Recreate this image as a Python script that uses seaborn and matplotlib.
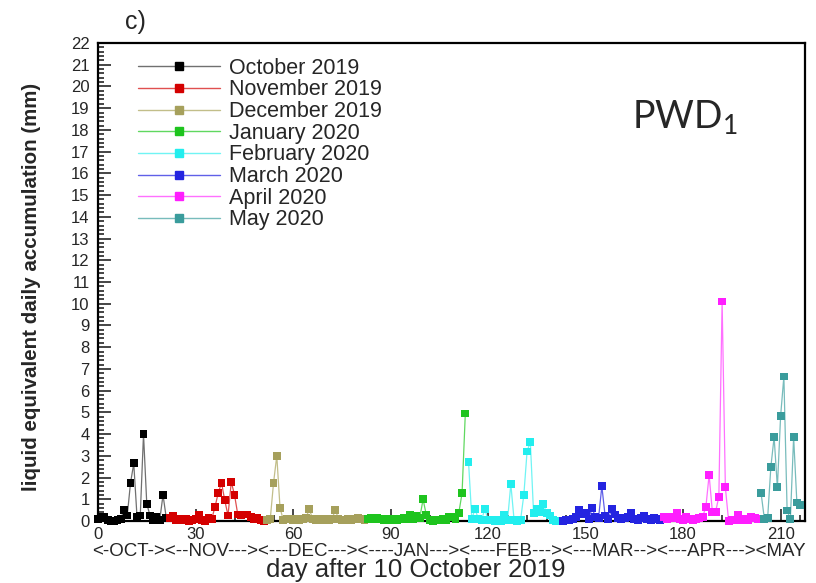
import numpy as np
import pandas as pd
import matplotlib
matplotlib.use('Agg')
import matplotlib.pyplot as plt
from matplotlib.lines import Line2D
from matplotlib.ticker import MultipleLocator
import seaborn as sns

# daily liquid-equivalent accumulation (mm), one list per month
# day 0 = 10 October 2019
oct_2019 = [0.1, 0.2, 0.2, 0.05, 0.0, 0.0, 0.05, 0.1, 0.5, 0.25, 1.75, 2.65, 0.2, 0.25,
            4.0, 0.8, 0.25, 0.05, 0.2, 0.05, 1.2, 0.15]
nov_2019 = [0.15, 0.25, 0.05, 0.1, 0.05, 0.1, 0.0, 0.05, 0.1, 0.3, 0.05, 0.0, 0.15, 0.1,
            0.65, 1.3, 1.75, 0.95, 0.25, 1.8, 1.2, 0.3, 0.25, 0.3, 0.3, 0.2, 0.1, 0.15,
            0.05, 0.0]
dec_2019 = [0.05, 0.1, 1.75, 3.0, 0.6, 0.05, 0.1, 0.1, 0.05, 0.1, 0.05, 0.1, 0.15, 0.55,
            0.1, 0.05, 0.1, 0.05, 0.1, 0.05, 0.1, 0.5, 0.1, 0.05, 0.05, 0.1, 0.05, 0.1,
            0.15, 0.1, 0.05]
jan_2020 = [0.1, 0.15, 0.1, 0.15, 0.1, 0.05, 0.1, 0.05, 0.1, 0.05, 0.1, 0.15, 0.1, 0.3,
            0.1, 0.25, 0.15, 1.0, 0.28, 0.05, 0.0, 0.05, 0.05, 0.1, 0.05, 0.2, 0.17, 0.1,
            0.38, 1.28, 4.95]
feb_2020 = [2.7, 0.1, 0.55, 0.1, 0.05, 0.55, 0.05, 0.05, 0.0, 0.05, 0.0, 0.3, 0.05, 1.7,
            0.05, 0.0, 0.05, 1.2, 3.2, 3.65, 0.35, 0.55, 0.4, 0.8, 0.35, 0.25, 0.05, 0.0,
            0.0]
mar_2020 = [0.0, 0.05, 0.05, 0.1, 0.2, 0.5, 0.3, 0.35, 0.1, 0.6, 0.2, 0.15, 1.6, 0.25,
            0.1, 0.55, 0.3, 0.15, 0.1, 0.15, 0.2, 0.35, 0.1, 0.05, 0.15, 0.25, 0.1, 0.05,
            0.15, 0.1, 0.05]
apr_2020 = [0.2, 0.1, 0.2, 0.15, 0.35, 0.1, 0.05, 0.17, 0.1, 0.05, 0.1, 0.15, 0.2, 0.63,
            2.12, 0.43, 0.43, 1.12, 10.1, 1.55, 0.0, 0.05, 0.05, 0.28, 0.05, 0.1, 0.05,
            0.2, 0.15, 0.1]
may_2020 = [1.27, 0.1, 0.12, 2.5, 3.86, 1.55, 4.84, 6.65, 0.48, 0.08, 3.86, 0.85, 0.74]

month_names = ['October 2019', 'November 2019', 'December 2019', 'January 2020',
               'February 2020', 'March 2020', 'April 2020', 'May 2020']
month_start = [0, 22, 52, 83, 114, 143, 174, 204]
month_values = [oct_2019, nov_2019, dec_2019, jan_2020, feb_2020, mar_2020, apr_2020, may_2020]

marker_colors = ['#000000', '#d40000', '#a6a05c', '#1ec41e', '#22eeee', '#2424e0', '#ff1eff', '#3a9c9c']
line_colors = ['#707070', '#e05050', '#c2be8a', '#60d860', '#70f4f4', '#6060e8', '#ff70ff', '#78bcbc']

x_ticks = [0, 30, 60, 90, 120, 150, 180, 210]
month_axis_text = '<-OCT-><--NOV---><---DEC---><----JAN---><----FEB---><---MAR--><---APR---><MAY'

rows = []
for name, start, vals in zip(month_names, month_start, month_values):
    for i, v in enumerate(vals):
        rows.append({'day': start + i, 'value': v, 'month': name})
df = pd.DataFrame(rows)

sns.set_style('ticks')
plt.rcParams['font.family'] = ['Liberation Sans', 'DejaVu Sans']

fig = plt.figure(figsize=(8.16, 5.83), dpi=100)
ax = fig.add_axes([98 / 816, 62 / 583, 707 / 816, 478 / 583])

sns.lineplot(data=df, x='day', y='value', hue='month', hue_order=month_names,
             palette=dict(zip(month_names, line_colors)), linewidth=0.9,
             estimator=None, sort=False, legend=False, ax=ax)
sns.scatterplot(data=df, x='day', y='value', hue='month', hue_order=month_names,
                palette=dict(zip(month_names, marker_colors)), marker='s', s=32,
                linewidth=0, legend=False, clip_on=False, zorder=3, ax=ax)

ax.set_xlim(0, 217.5)
ax.set_ylim(0, 22)
ax.set_xticks(x_ticks)
ax.xaxis.set_minor_locator(MultipleLocator(6))
ax.yaxis.set_major_locator(MultipleLocator(1))
ax.yaxis.set_minor_locator(MultipleLocator(0.2))
ax.tick_params(which='both', direction='in', top=False, right=False, labelsize=12, width=1.2)
ax.tick_params(which='major', length=9, pad=6)
ax.tick_params(axis='x', which='major', pad=4)
ax.tick_params(which='minor', length=4)
for s in ax.spines.values():
    s.set_linewidth(1.6)
    s.set_color('black')

ax.set_xlabel('day after 10 October 2019', fontsize=18.5)
ax.xaxis.set_label_coords(0.45, -0.077)
ax.set_ylabel('liquid equivalent daily accumulation (mm)', fontsize=14.8, fontweight='bold')
ax.yaxis.set_label_coords(-0.08, 0.49)

fig.text(92 / 816, 1 - 551 / 583, month_axis_text, fontsize=13.5, ha='left', va='center')
fig.text(135 / 816, 1 - 22 / 583, 'c)', fontsize=18, ha='center', va='center')
ax.text(0.755, 0.82, r'PWD$_{\mathregular{1}}$', transform=ax.transAxes, fontsize=27,
        family=['Lato', 'DejaVu Sans'], ha='left', va='baseline')

handles = [Line2D([0], [0], color=lc, lw=1, marker='s', markersize=5.5,
                  markerfacecolor=mc, markeredgecolor=mc)
           for lc, mc in zip(line_colors, marker_colors)]
ax.legend(handles, month_names, loc='upper left', bbox_to_anchor=(0.057, 0.969),
          frameon=False, fontsize=15.5, handlelength=3.8, handletextpad=0.4,
          labelspacing=0.03, borderpad=0, borderaxespad=0)

fig.savefig('out.png', dpi=100)
